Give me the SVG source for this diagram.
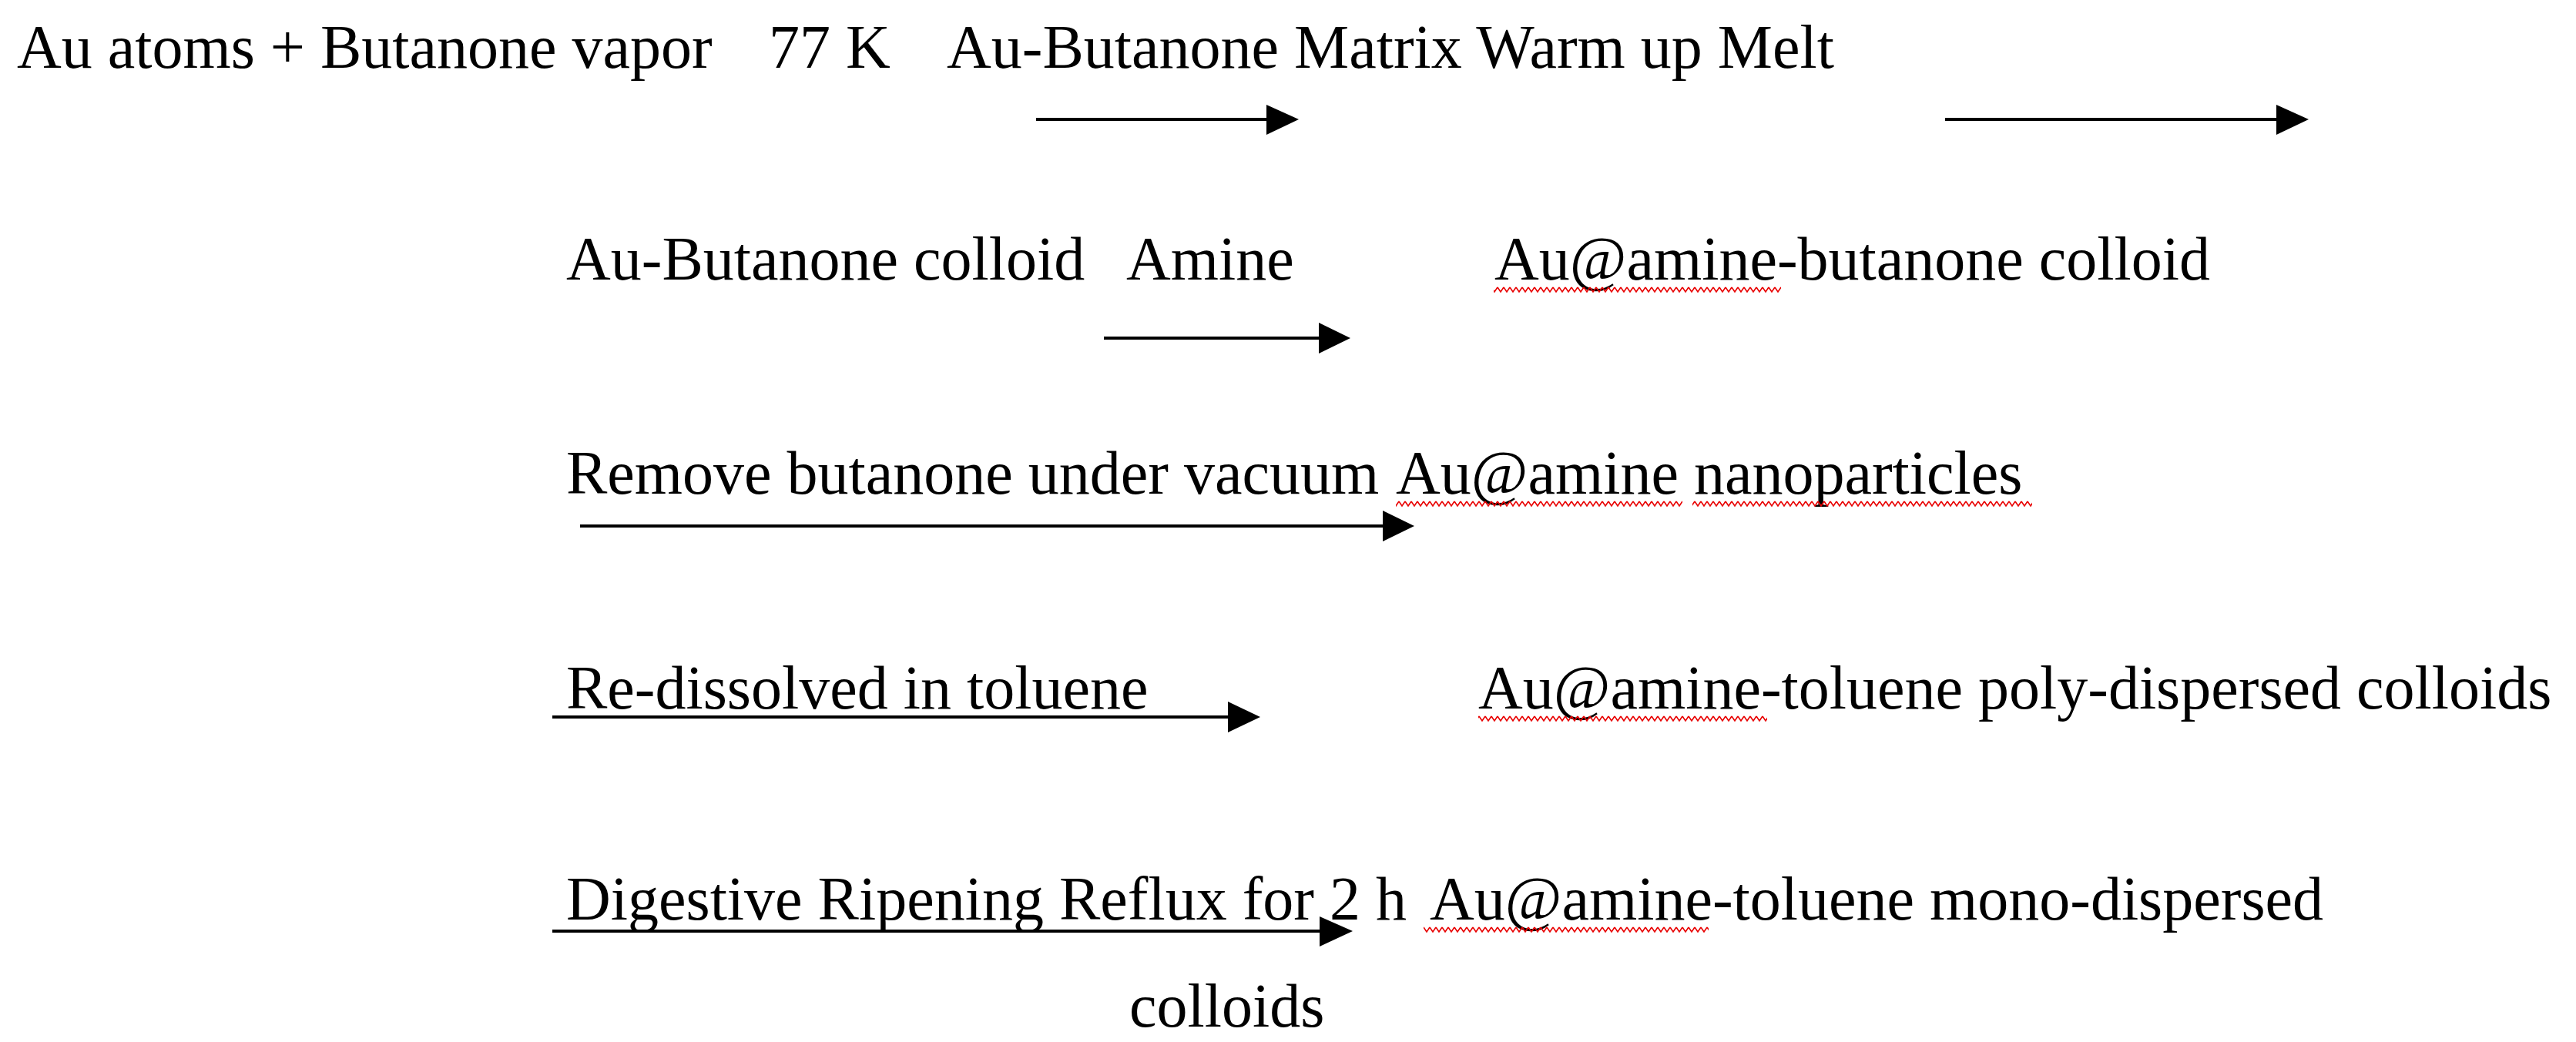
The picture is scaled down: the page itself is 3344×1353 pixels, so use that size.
<svg xmlns="http://www.w3.org/2000/svg" width="3344" height="1353" viewBox="0 0 3344 1353">
<style>
text{font-family:"Liberation Serif","Times New Roman",serif;font-size:80px;fill:#000}
.ln{stroke:#000;stroke-width:4;fill:none}
.hd{fill:#000}
.sq{fill:url(#sq)}
</style>
<defs>
<pattern id="sq" width="8" height="8" patternUnits="userSpaceOnUse">
<path d="M0,1 L4,7 L8,1" stroke="#e80000" stroke-width="1.6" fill="none"/>
</pattern>
</defs>
<rect width="3344" height="1353" fill="#fff"/>
<g id="n1"><text x="22" y="88">Au atoms + Butanone vapor</text></g>
<g id="l77"><text x="998" y="88">77 K</text></g>
<g id="n2"><text x="1229" y="88">Au-Butanone Matrix Warm up Melt</text></g>
<g id="n3"><text x="735" y="363">Au-Butanone colloid</text></g>
<g id="lamine"><text x="1462" y="363">Amine</text></g>
<g id="n4"><text x="1940" y="363">Au@amine-butanone colloid</text><rect class="sq" x="1939" y="0" width="373" height="8" transform="translate(0,372)"/></g>
<g id="l3"><text x="735" y="641">Remove butanone under vacuum</text></g>
<g id="n5"><text x="1812" y="641">Au@amine nanoparticles</text><rect class="sq" x="1812" y="0" width="372" height="8" transform="translate(0,650)"/><rect class="sq" x="2197" y="0" width="441" height="8" transform="translate(0,650)"/></g>
<g id="l4"><text x="735" y="920">Re-dissolved in toluene</text></g>
<g id="n6"><text x="1919" y="920">Au@amine-toluene poly-dispersed colloids</text><rect class="sq" x="1919" y="0" width="375" height="8" transform="translate(0,929)"/></g>
<g id="l5"><text x="735" y="1194">Digestive Ripening Reflux for 2 h</text></g>
<g id="n7"><text x="1856" y="1194">Au@amine-toluene mono-dispersed</text><text x="1466" y="1333">colloids</text><rect class="sq" x="1848" y="0" width="370" height="8" transform="translate(0,1203)"/></g>
<g id="connectors">
<line class="ln" x1="1345" y1="155" x2="1650" y2="155"/><polygon class="hd" points="1644,136 1686,155 1644,175"/>
<line class="ln" x1="2525" y1="155" x2="2960" y2="155"/><polygon class="hd" points="2955,136 2997,155 2955,175"/>
<line class="ln" x1="1433" y1="439" x2="1716" y2="439"/><polygon class="hd" points="1712,419 1753,439 1712,459"/>
<line class="ln" x1="753" y1="683" x2="1800" y2="683"/><polygon class="hd" points="1795,663 1836,683 1795,703"/>
<line class="ln" x1="717" y1="931" x2="1600" y2="931"/><polygon class="hd" points="1594,911 1636,931 1594,951"/>
<line class="ln" x1="717" y1="1209" x2="1716" y2="1209"/><polygon class="hd" points="1713,1190 1756,1209 1713,1229"/>
</g>
</svg>
